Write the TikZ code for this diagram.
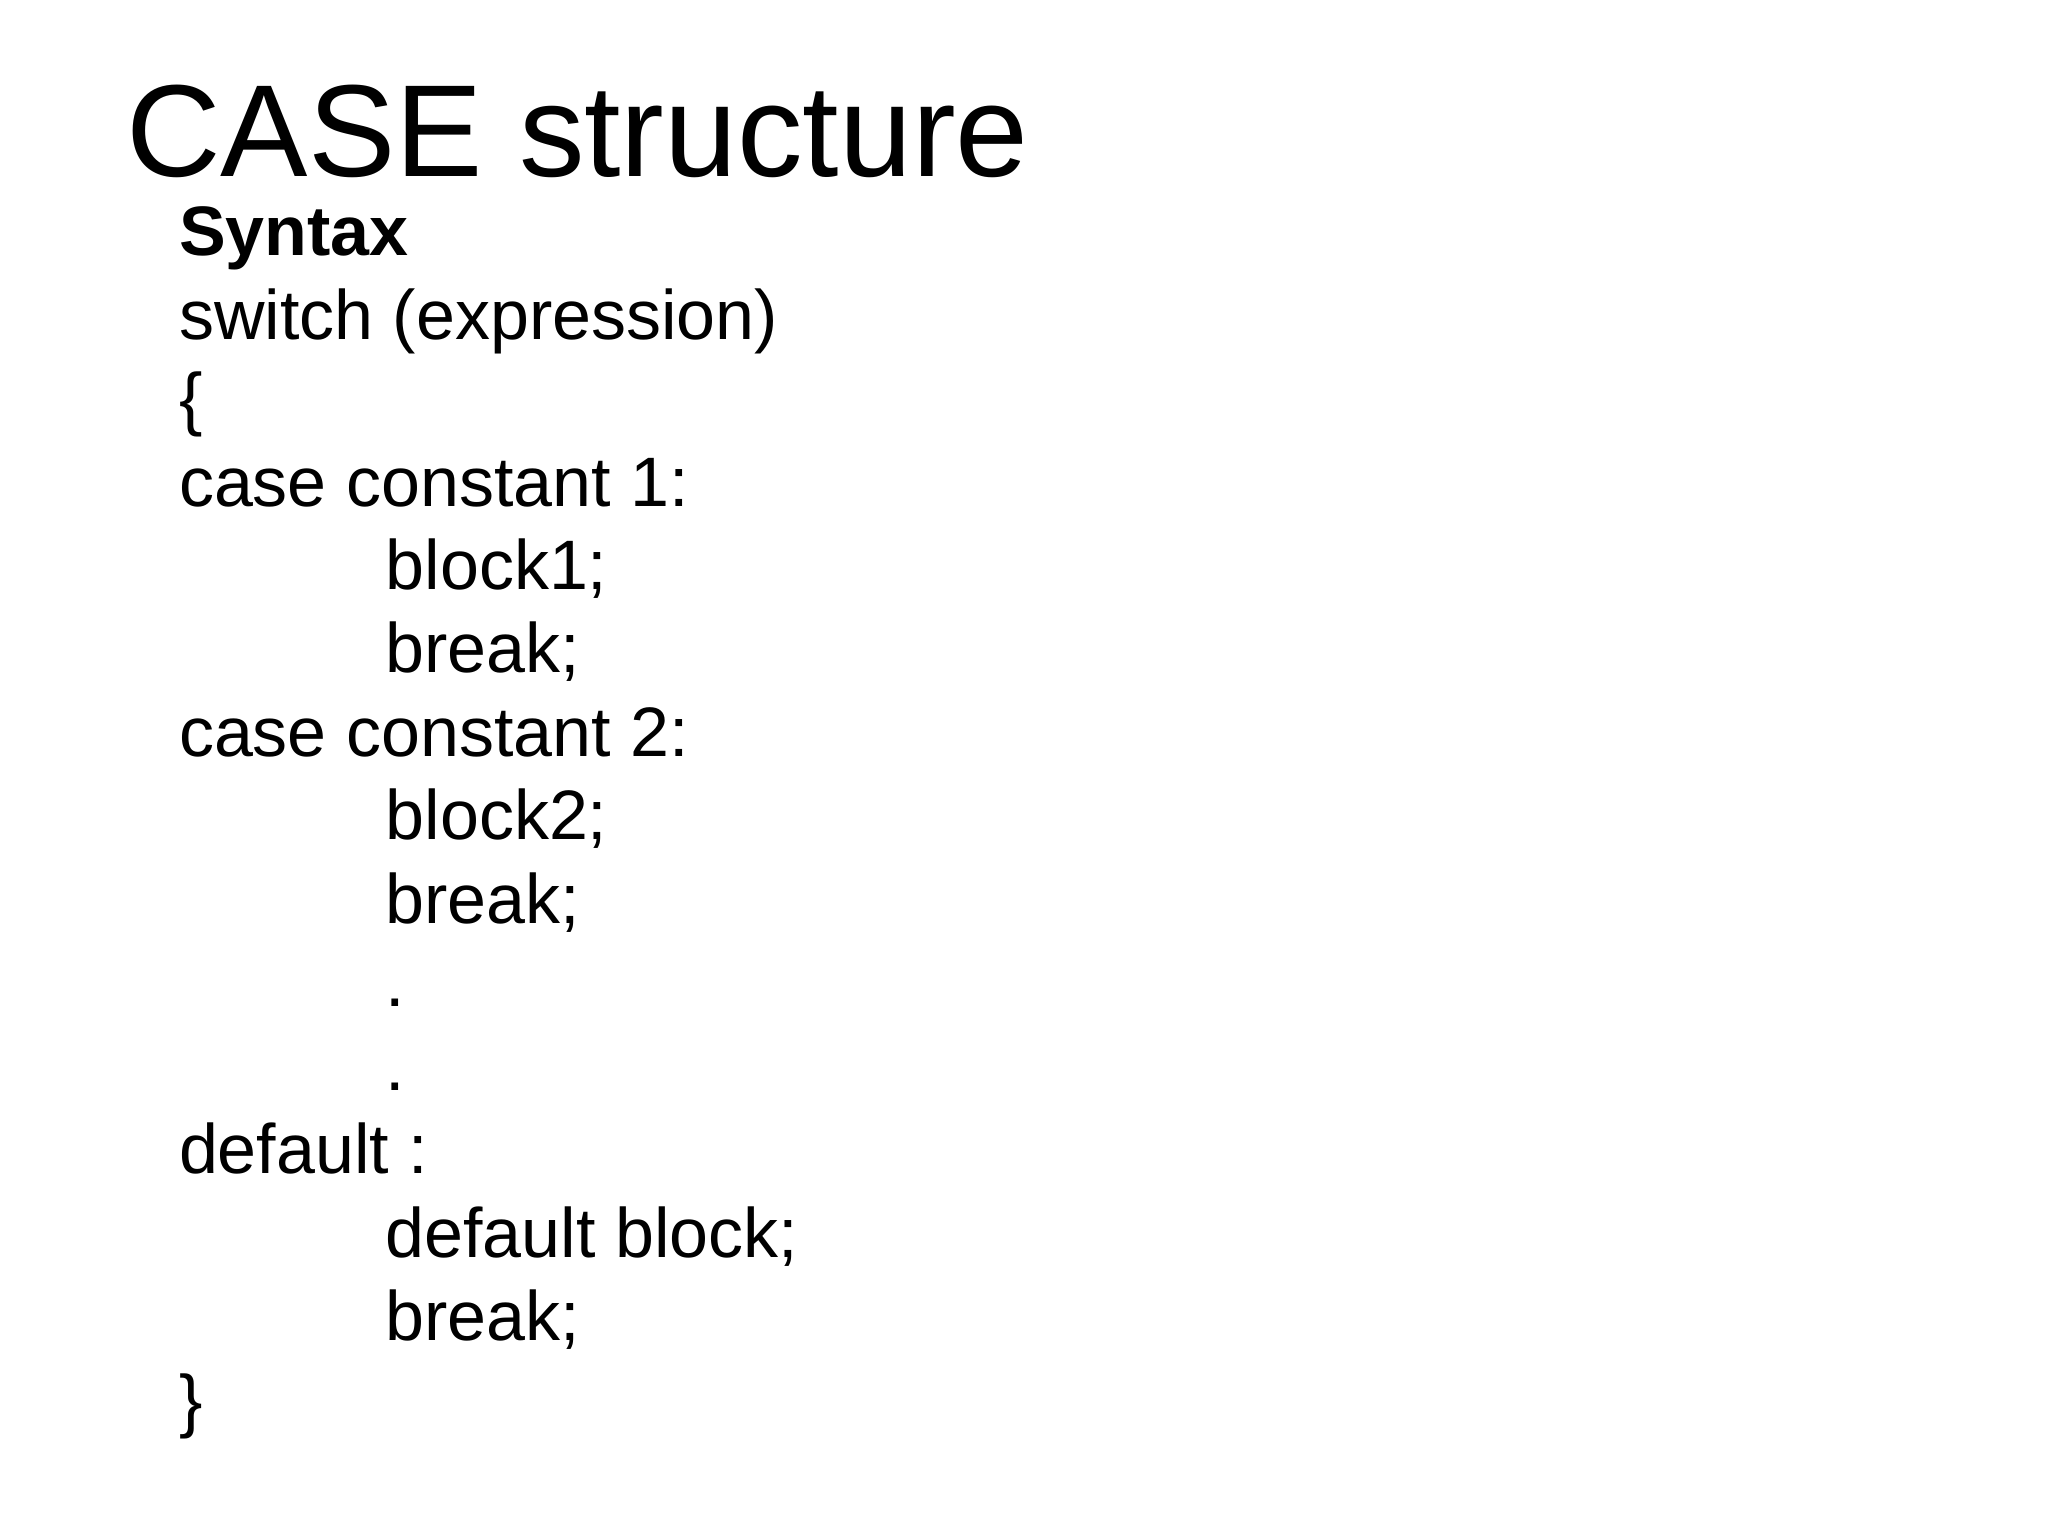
\documentclass[tikz,border=0pt]{standalone}
\usepackage{fontspec}
\setmainfont{Liberation Sans}
\begin{document}
\begin{tikzpicture}[x=1.3247pt,y=-1.3247pt,
  body/.style={anchor=base west,inner sep=0pt,font=\fontsize{70}{80}\selectfont}]
\useasboundingbox[fill=white] (0,0) rectangle (1546,1159.5);
\node[anchor=base west,inner sep=0pt,font=\fontsize{131}{140}\selectfont] (title) at (95,133) {CASE structure};
\node[body,font=\fontsize{70}{80}\selectfont\bfseries] (syn) at (135,193) {Syntax};
\node[body] (l1) at (135,256) {switch (expression)};
\node[body] (l2) at (135,319) {\{};
\node[body] (l3) at (135,382) {case constant 1:};
\node[body] (l4) at (291,445) {block1;};
\node[body] (l5) at (291,508) {break;};
\node[body] (l6) at (135,571) {case constant 2:};
\node[body] (l7) at (291,634) {block2;};
\node[body] (l8) at (291,697) {break;};
\node[body] (l9) at (291,760) {.};
\node[body] (l10) at (291,823) {.};
\node[body] (l11) at (135,886) {default :};
\node[body] (l12) at (291,949) {default block;};
\node[body] (l13) at (291,1012) {break;};
\node[body] (l14) at (135,1075) {\}};
\end{tikzpicture}
\end{document}
